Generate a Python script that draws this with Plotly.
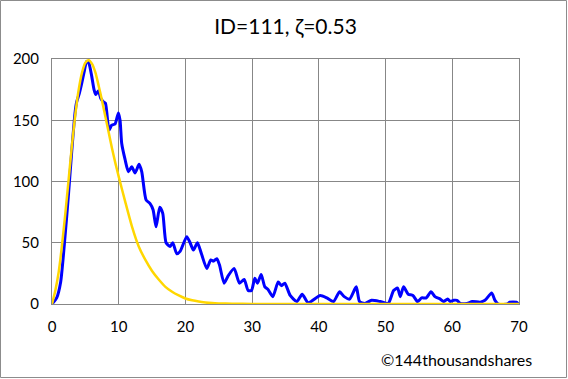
import plotly.graph_objects as go

title_text = "ID=111, ζ=0.53"
credit_text = "©144thousandshares"

obs_x = [0, 0.7, 1.3, 1.95, 2.45, 2.95, 3.45, 3.7, 4.1, 4.45, 4.8, 5.2, 5.5, 5.95, 6.3, 6.55, 6.95, 7.3, 7.7, 8.0,
         8.2, 8.55, 8.95, 9.45, 9.95, 10.2, 10.45, 10.95, 11.45, 11.95, 12.45, 13.05, 13.45, 14.1, 14.7, 15.15,
         15.6, 16.15, 16.6, 17.1, 17.7, 18.1, 18.7, 19.2, 20.2, 20.7, 21.2, 21.8, 22.4, 23.2, 23.8, 24.2, 24.7,
         25.1, 25.8, 26.4, 27.3, 28.1, 28.8, 29.4, 29.9, 30.4, 30.8, 31.35, 31.9, 32.35, 33.1, 33.9, 34.4, 34.9,
         35.7, 36.7, 37.5, 38.4, 40.2, 41.2, 42.2, 43.1, 43.8, 44.6, 45.6, 46.1, 46.9, 47.9, 49.2, 50.4, 51.2,
         51.8, 52.2, 52.7, 53.4, 54.1, 54.8, 55.4, 56.1, 56.8, 57.4, 58.2, 58.7, 59.3, 59.7, 60.2, 60.7, 61.2,
         62.2, 63.0, 64.2, 64.9, 65.9, 66.4, 66.9, 68.3, 68.6, 69.6, 69.9]
obs_y = [0, 5, 18, 55, 88, 124, 156, 165, 172, 180, 189, 198, 197, 186, 175, 171, 174, 168, 165, 164,
         157, 142, 146, 147, 156, 150, 131, 118, 108, 112, 107, 114, 108, 85, 82, 77,
         63, 79, 74, 50, 47, 50, 41, 43, 55, 50, 44, 50, 41, 29, 36, 35, 37,
         32, 17, 23, 29, 17, 20, 11, 11, 21, 17, 24, 14, 12, 6, 18, 15, 17,
         7, 2, 8, 1, 7, 5, 2, 10, 6, 4, 14, 2, 0.5, 3, 2, 0.5, 11,
         13, 6, 14, 8, 7, 2, 5, 5, 10, 6, 4, 2, 4, 2, 3, 3, 0.5,
         0.5, 2, 1.5, 3, 9, 3, 0, 0, 1.5, 1.5, 0]

fit_x = [0, 0.5, 1, 1.5, 2, 2.5, 3, 3.5, 4, 4.5, 5, 5.5, 6, 6.5, 7, 7.5, 8, 8.5, 9, 9.5, 10, 11, 12, 13, 14,
         15, 16, 17, 18, 19, 20, 21, 22, 23, 24, 25, 27, 30, 35, 40, 50, 60, 70]
fit_y = [0, 11, 26, 48, 74, 102, 130, 155, 175, 189, 197, 199, 196, 189, 178, 166, 153, 140, 127, 115, 104, 83,
         63, 47, 36, 27, 20, 14, 10, 7, 4.5, 3, 2, 1.3, 0.8, 0.5, 0.2, 0.05, 0, 0, 0, 0, 0]

x_ticks = [0, 10, 20, 30, 40, 50, 60, 70]
y_ticks = [0, 50, 100, 150, 200]

fig = go.Figure()
fig.add_trace(go.Scatter(x=obs_x, y=obs_y, mode="lines",
                         line=dict(color="#0000FF", width=3, shape="spline", smoothing=0.6),
                         showlegend=False, hoverinfo="skip"))
fig.add_trace(go.Scatter(x=fit_x, y=fit_y, mode="lines",
                         line=dict(color="#FFD700", width=2.5, shape="spline", smoothing=0.6),
                         showlegend=False, hoverinfo="skip"))

W, H = 568, 379
ml, mr, mt, mb = 52, 49, 59, 75
pw, ph = W - ml - mr, H - mt - mb

grid_col = "#878787"
font_fam = "Lato, 'Open Sans', sans-serif"

fig.update_layout(
    width=W, height=H,
    margin=dict(l=ml, r=mr, t=mt, b=mb),
    paper_bgcolor="white", plot_bgcolor="white",
    title=dict(text=title_text, x=0.5, xref="paper", xanchor="center", y=1 - 27 / H, yanchor="middle",
               font=dict(family=font_fam, size=21, color="#000000")),
    font=dict(family=font_fam, size=15, color="#000000"),
    xaxis=dict(range=[0, 70], tickvals=x_ticks, showgrid=True, gridcolor=grid_col, gridwidth=1,
               showline=True, linecolor=grid_col, linewidth=1, mirror=True, zeroline=False,
               ticks="outside", ticklen=9, tickcolor="rgba(0,0,0,0)"),
    yaxis=dict(range=[0, 200], tickvals=y_ticks, showgrid=True, gridcolor=grid_col, gridwidth=1,
               showline=True, linecolor=grid_col, linewidth=1, mirror=True, zeroline=False,
               ticks="outside", ticklen=9, tickcolor="rgba(0,0,0,0)"),
    annotations=[dict(text=credit_text, xref="paper", yref="paper",
                      x=(534 - ml) / pw, y=-(359 - (mt + ph)) / ph, xanchor="right", yanchor="middle",
                      showarrow=False, font=dict(family=font_fam, size=16, color="#000000"))],
    shapes=[dict(type="rect", xref="paper", yref="paper",
                 x0=-(ml - 0.5) / pw, x1=1 + (mr - 1.5) / pw,
                 y0=-(mb - 1.5) / ph, y1=1 + (mt - 0.5) / ph,
                 line=dict(color="#8c8c8c", width=1), fillcolor="rgba(0,0,0,0)", layer="below")],
)

fig.write_html("out.html", config={"displayModeBar": False},
               post_script="document.body.style.margin='0px';document.body.style.overflow='hidden';")
